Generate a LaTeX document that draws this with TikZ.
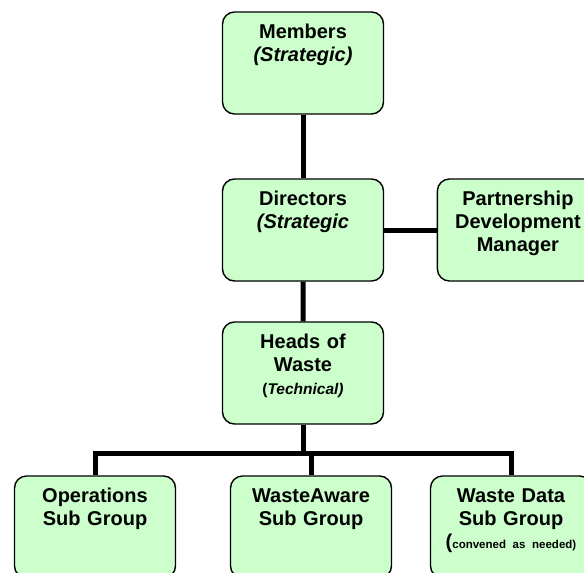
\documentclass[tikz,border=0pt]{standalone}
\usepackage{fontspec}
\setmainfont{Liberation Sans}
\usetikzlibrary{positioning, trees}
\definecolor{unitgreen}{HTML}{CCFFCC}

\begin{document}
\begin{tikzpicture}[
                        x=1pt, y=1pt,
                        every node/.style={rectangle, draw, line width=1.4pt, rounded corners=12pt, fill=unitgreen,
                          text width=138pt, align=center, inner sep=11.5pt, text height=14.5pt, text depth=64.5pt,
                          font=\bfseries\fontsize{20}{23}\selectfont},
                        edge from parent/.style={draw, line width=5pt},
                        grow=south,
                        level 1/.style={level distance=167pt},
                        level 2/.style={level distance=143pt},
                        level 3/.style={level distance=154pt, sibling distance=208pt,
                          edge from parent path={(\tikzparentnode.south) -- +(0,-28.5pt) -| (\tikzchildnode.north)}}
                        ]
                        \useasboundingbox (0,0) rectangle (584,-573);
                        \clip (0,0) rectangle (584,-573);

                        \node (mem) at (303,-63) {Members\\\textit{(Strategic)}}
                          child {node (dir) {Directors\\\textit{(Strategic}}
                            child {node (hw) {Heads of\\Waste\\{\fontsize{15.5}{18}\selectfont(\textit{Technical)}}}
                              child {node (ops) {Operations\\Sub Group}}
                              child {node[xshift=8pt] (wa) {WasteAware\\Sub Group}}
                              child {node (wd) {Waste Data\\Sub Group\\({\fontsize{11.5}{14}\selectfont convened as needed)}}}
                            }
                          };

                        \node[right=52.5pt of dir] (pdm) {Partnership\\Development\\Manager};
                        \draw[line width=5pt] (dir) -- (pdm);
                      \end{tikzpicture}
\end{document}
